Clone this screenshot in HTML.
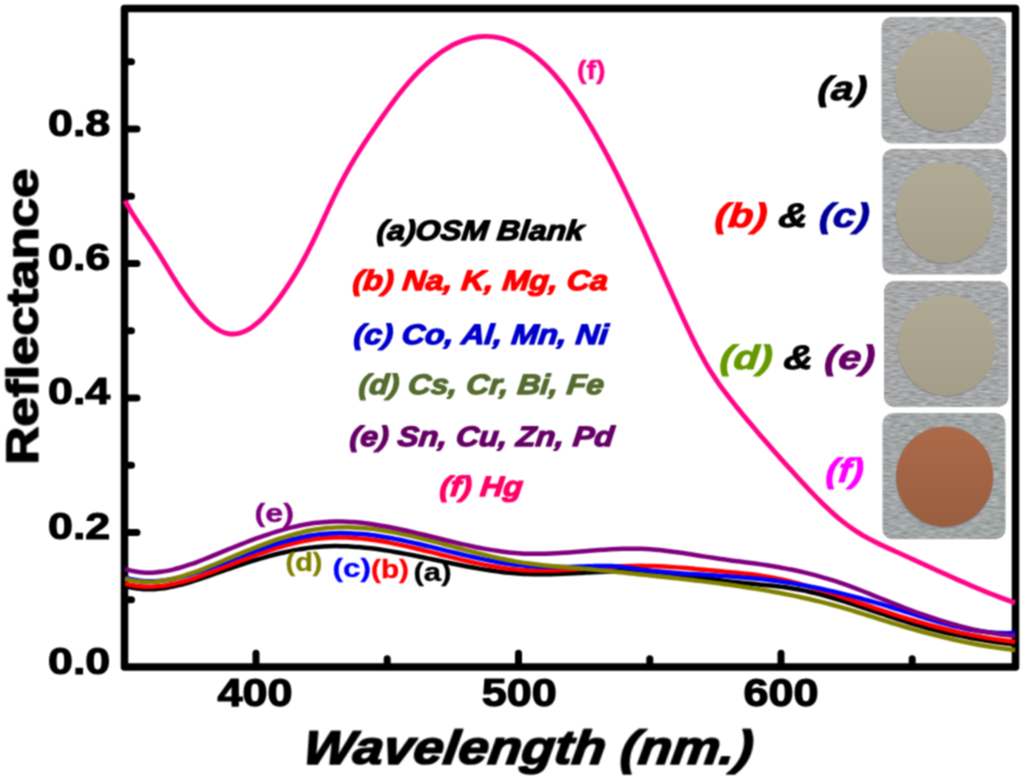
<!DOCTYPE html>
<html><head><meta charset="utf-8"><title>Reflectance vs Wavelength</title>
<style>
html,body{margin:0;padding:0;background:#fff;}
body{width:1024px;height:779px;overflow:hidden;}
svg{display:block;}
text{font-family:'Liberation Sans',Arial,sans-serif;font-weight:bold;white-space:pre;}
</style></head><body>
<svg width="1024" height="779" viewBox="0 0 1024 779">
<defs>
<filter id="brush" x="0" y="0" width="100%" height="100%" color-interpolation-filters="sRGB">
<feTurbulence type="fractalNoise" baseFrequency="0.11 0.55" numOctaves="3" seed="7" result="n"/>
<feColorMatrix in="n" type="matrix" values="1 0 0 0 0  1 0 0 0 0  1 0 0 0 0  0 0 0 0 1" result="g"/>
<feComposite in="SourceGraphic" in2="g" operator="arithmetic" k1="0.54" k2="0.73" k3="0" k4="0" result="m"/>
<feComposite in="m" in2="SourceGraphic" operator="in"/>
</filter>
<filter id="soft" x="0" y="0" width="1024" height="779" filterUnits="userSpaceOnUse" color-interpolation-filters="sRGB"><feConvolveMatrix order="3" kernelMatrix="1 2 1 2 4 2 1 2 1" divisor="16" edgeMode="none" preserveAlpha="false"/></filter>
</defs>
<rect width="1024" height="779" fill="#fff"/>
<g filter="url(#soft)">

<rect x="124.5" y="8.5" width="891" height="658.5" fill="none" stroke="#000" stroke-width="7.5" stroke-linejoin="round"/>
<line x1="126" y1="599.8" x2="131.5" y2="599.8" stroke="#000" stroke-width="7" stroke-linecap="round"/>
<line x1="126" y1="532.5" x2="137" y2="532.5" stroke="#000" stroke-width="7" stroke-linecap="round"/>
<line x1="126" y1="465.2" x2="131.5" y2="465.2" stroke="#000" stroke-width="7" stroke-linecap="round"/>
<line x1="126" y1="398.0" x2="137" y2="398.0" stroke="#000" stroke-width="7" stroke-linecap="round"/>
<line x1="126" y1="330.8" x2="131.5" y2="330.8" stroke="#000" stroke-width="7" stroke-linecap="round"/>
<line x1="126" y1="263.5" x2="137" y2="263.5" stroke="#000" stroke-width="7" stroke-linecap="round"/>
<line x1="126" y1="196.2" x2="131.5" y2="196.2" stroke="#000" stroke-width="7" stroke-linecap="round"/>
<line x1="126" y1="129.0" x2="137" y2="129.0" stroke="#000" stroke-width="7" stroke-linecap="round"/>
<line x1="126" y1="61.8" x2="131.5" y2="61.8" stroke="#000" stroke-width="7" stroke-linecap="round"/>
<line x1="256.0" y1="665" x2="256.0" y2="653.3" stroke="#000" stroke-width="7" stroke-linecap="round"/>
<line x1="387.2" y1="665" x2="387.2" y2="658.8" stroke="#000" stroke-width="7" stroke-linecap="round"/>
<line x1="518.5" y1="665" x2="518.5" y2="653.3" stroke="#000" stroke-width="7" stroke-linecap="round"/>
<line x1="649.8" y1="665" x2="649.8" y2="658.8" stroke="#000" stroke-width="7" stroke-linecap="round"/>
<line x1="781.0" y1="665" x2="781.0" y2="653.3" stroke="#000" stroke-width="7" stroke-linecap="round"/>
<line x1="912.2" y1="665" x2="912.2" y2="658.8" stroke="#000" stroke-width="7" stroke-linecap="round"/>
<path d="M125.00 586.12 C126.00 586.37 129.00 587.19 131.00 587.61 C133.00 588.02 135.00 588.36 137.00 588.62 C139.00 588.88 141.00 589.07 143.00 589.19 C145.00 589.31 147.00 589.36 149.00 589.35 C151.00 589.34 153.00 589.26 155.00 589.13 C157.00 589.00 159.00 588.81 161.00 588.58 C163.00 588.34 165.00 588.04 167.00 587.71 C169.00 587.37 171.00 586.99 173.00 586.57 C175.00 586.15 177.00 585.68 179.00 585.18 C181.00 584.69 183.00 584.15 185.00 583.59 C187.00 583.03 189.00 582.44 191.00 581.83 C193.00 581.22 195.00 580.58 197.00 579.92 C199.00 579.27 201.00 578.59 203.00 577.91 C205.00 577.23 207.00 576.53 209.00 575.82 C211.00 575.12 213.00 574.41 215.00 573.70 C217.00 572.99 219.00 572.27 221.00 571.57 C223.00 570.86 225.00 570.15 227.00 569.45 C229.00 568.76 231.00 568.06 233.00 567.38 C235.00 566.69 237.00 566.01 239.00 565.34 C241.00 564.67 243.00 564.01 245.00 563.36 C247.00 562.70 249.00 562.06 251.00 561.43 C253.00 560.80 255.00 560.18 257.00 559.58 C259.00 558.97 261.00 558.38 263.00 557.81 C265.00 557.23 267.00 556.67 269.00 556.12 C271.00 555.58 273.00 555.05 275.00 554.54 C277.00 554.03 279.00 553.53 281.00 553.06 C283.00 552.58 285.00 552.13 287.00 551.70 C289.00 551.26 291.00 550.85 293.00 550.46 C295.00 550.07 297.00 549.71 299.00 549.36 C301.00 549.02 303.00 548.70 305.00 548.41 C307.00 548.12 309.00 547.85 311.00 547.61 C313.00 547.38 315.00 547.16 317.00 546.98 C319.00 546.80 321.00 546.64 323.00 546.52 C325.00 546.40 327.00 546.30 329.00 546.23 C331.00 546.16 333.00 546.13 335.00 546.11 C337.00 546.10 339.00 546.11 341.00 546.14 C343.00 546.18 345.00 546.24 347.00 546.32 C349.00 546.40 351.00 546.51 353.00 546.64 C355.00 546.76 357.00 546.91 359.00 547.08 C361.00 547.25 363.00 547.44 365.00 547.64 C367.00 547.85 369.00 548.07 371.00 548.31 C373.00 548.55 375.00 548.81 377.00 549.08 C379.00 549.36 381.00 549.65 383.00 549.95 C385.00 550.25 387.00 550.56 389.00 550.89 C391.00 551.22 393.00 551.56 395.00 551.91 C397.00 552.26 399.00 552.62 401.00 552.99 C403.00 553.36 405.00 553.74 407.00 554.12 C409.00 554.51 411.00 554.90 413.00 555.30 C415.00 555.70 417.00 556.11 419.00 556.52 C421.00 556.93 423.00 557.34 425.00 557.76 C427.00 558.17 429.00 558.60 431.00 559.02 C433.00 559.44 435.00 559.86 437.00 560.28 C439.00 560.71 441.00 561.13 443.00 561.55 C445.00 561.97 447.00 562.39 449.00 562.81 C451.00 563.22 453.00 563.64 455.00 564.04 C457.00 564.45 459.00 564.86 461.00 565.25 C463.00 565.65 465.00 566.04 467.00 566.42 C469.00 566.80 471.00 567.18 473.00 567.55 C475.00 567.91 477.00 568.27 479.00 568.61 C481.00 568.96 483.00 569.29 485.00 569.62 C487.00 569.94 489.00 570.25 491.00 570.54 C493.00 570.84 495.00 571.12 497.00 571.39 C499.00 571.66 501.00 571.91 503.00 572.14 C505.00 572.37 507.00 572.59 509.00 572.79 C511.00 572.99 513.00 573.17 515.00 573.33 C517.00 573.49 519.00 573.63 521.00 573.75 C523.00 573.87 525.00 573.96 527.00 574.04 C529.00 574.12 531.00 574.18 533.00 574.22 C535.00 574.26 537.00 574.29 539.00 574.30 C541.00 574.31 543.00 574.30 545.00 574.28 C547.00 574.26 549.00 574.23 551.00 574.19 C553.00 574.15 555.00 574.09 557.00 574.03 C559.00 573.96 561.00 573.89 563.00 573.81 C565.00 573.73 567.00 573.64 569.00 573.55 C571.00 573.46 573.00 573.36 575.00 573.25 C577.00 573.15 579.00 573.04 581.00 572.94 C583.00 572.83 585.00 572.72 587.00 572.61 C589.00 572.50 591.00 572.40 593.00 572.29 C595.00 572.18 597.00 572.08 599.00 571.98 C601.00 571.88 603.00 571.79 605.00 571.70 C607.00 571.61 609.00 571.53 611.00 571.45 C613.00 571.38 615.00 571.31 617.00 571.26 C619.00 571.20 621.00 571.15 623.00 571.12 C625.00 571.09 627.00 571.06 629.00 571.06 C631.00 571.05 633.00 571.05 635.00 571.08 C637.00 571.10 639.00 571.14 641.00 571.19 C643.00 571.25 645.00 571.32 647.00 571.41 C649.00 571.51 651.00 571.62 653.00 571.76 C655.00 571.89 657.00 572.05 659.00 572.22 C661.00 572.39 663.00 572.58 665.00 572.78 C667.00 572.98 669.00 573.20 671.00 573.43 C673.00 573.66 675.00 573.90 677.00 574.16 C679.00 574.41 681.00 574.67 683.00 574.94 C685.00 575.21 687.00 575.49 689.00 575.77 C691.00 576.06 693.00 576.35 695.00 576.64 C697.00 576.93 699.00 577.22 701.00 577.52 C703.00 577.81 705.00 578.11 707.00 578.40 C709.00 578.70 711.00 578.99 713.00 579.28 C715.00 579.56 717.00 579.85 719.00 580.12 C721.00 580.40 723.00 580.67 725.00 580.93 C727.00 581.19 729.00 581.44 731.00 581.68 C733.00 581.92 735.00 582.15 737.00 582.36 C739.00 582.58 741.00 582.78 743.00 582.98 C745.00 583.18 747.00 583.36 749.00 583.55 C751.00 583.73 753.00 583.91 755.00 584.09 C757.00 584.27 759.00 584.45 761.00 584.64 C763.00 584.82 765.00 585.01 767.00 585.20 C769.00 585.40 771.00 585.60 773.00 585.82 C775.00 586.03 777.00 586.26 779.00 586.50 C781.00 586.74 783.00 587.00 785.00 587.28 C787.00 587.56 789.00 587.85 791.00 588.17 C793.00 588.49 795.00 588.84 797.00 589.21 C799.00 589.57 801.00 589.97 803.00 590.38 C805.00 590.79 807.00 591.23 809.00 591.68 C811.00 592.14 813.00 592.61 815.00 593.11 C817.00 593.60 819.00 594.11 821.00 594.64 C823.00 595.17 825.00 595.71 827.00 596.27 C829.00 596.83 831.00 597.40 833.00 597.99 C835.00 598.57 837.00 599.17 839.00 599.78 C841.00 600.39 843.00 601.01 845.00 601.64 C847.00 602.27 849.00 602.91 851.00 603.55 C853.00 604.20 855.00 604.85 857.00 605.51 C859.00 606.16 861.00 606.83 863.00 607.50 C865.00 608.16 867.00 608.84 869.00 609.51 C871.00 610.18 873.00 610.86 875.00 611.53 C877.00 612.20 879.00 612.88 881.00 613.55 C883.00 614.22 885.00 614.90 887.00 615.56 C889.00 616.23 891.00 616.90 893.00 617.55 C895.00 618.21 897.00 618.87 899.00 619.51 C901.00 620.16 903.00 620.80 905.00 621.43 C907.00 622.06 909.00 622.68 911.00 623.29 C913.00 623.90 915.00 624.50 917.00 625.09 C919.00 625.67 921.00 626.25 923.00 626.81 C925.00 627.37 927.00 627.92 929.00 628.46 C931.00 628.99 933.00 629.52 935.00 630.03 C937.00 630.54 939.00 631.04 941.00 631.53 C943.00 632.01 945.00 632.49 947.00 632.95 C949.00 633.42 951.00 633.87 953.00 634.31 C955.00 634.75 957.00 635.18 959.00 635.60 C961.00 636.01 963.00 636.42 965.00 636.81 C967.00 637.21 969.00 637.59 971.00 637.97 C973.00 638.34 975.00 638.70 977.00 639.05 C979.00 639.41 981.00 639.75 983.00 640.08 C985.00 640.41 987.00 640.73 989.00 641.04 C991.00 641.35 993.00 641.65 995.00 641.94 C997.00 642.23 999.00 642.51 1001.00 642.78 C1003.00 643.05 1005.00 643.31 1007.00 643.56 C1009.00 643.81 1011.63 644.13 1013.00 644.29 C1014.37 644.45 1014.83 644.50 1015.20 644.54" fill="none" stroke="#000000" stroke-width="4.5" stroke-linecap="butt" stroke-linejoin="round"/>
<path d="M125.00 583.61 C126.00 583.85 129.00 584.65 131.00 585.05 C133.00 585.46 135.00 585.78 137.00 586.04 C139.00 586.30 141.00 586.48 143.00 586.61 C145.00 586.73 147.00 586.78 149.00 586.77 C151.00 586.77 153.00 586.69 155.00 586.57 C157.00 586.45 159.00 586.26 161.00 586.03 C163.00 585.80 165.00 585.51 167.00 585.18 C169.00 584.85 171.00 584.47 173.00 584.05 C175.00 583.63 177.00 583.17 179.00 582.67 C181.00 582.17 183.00 581.63 185.00 581.07 C187.00 580.50 189.00 579.90 191.00 579.28 C193.00 578.65 195.00 578.00 197.00 577.32 C199.00 576.65 201.00 575.95 203.00 575.24 C205.00 574.52 207.00 573.79 209.00 573.05 C211.00 572.30 213.00 571.54 215.00 570.78 C217.00 570.02 219.00 569.24 221.00 568.47 C223.00 567.70 225.00 566.92 227.00 566.14 C229.00 565.37 231.00 564.59 233.00 563.81 C235.00 563.04 237.00 562.26 239.00 561.49 C241.00 560.72 243.00 559.95 245.00 559.19 C247.00 558.44 249.00 557.68 251.00 556.94 C253.00 556.20 255.00 555.46 257.00 554.74 C259.00 554.01 261.00 553.30 263.00 552.60 C265.00 551.91 267.00 551.22 269.00 550.55 C271.00 549.89 273.00 549.23 275.00 548.60 C277.00 547.97 279.00 547.35 281.00 546.76 C283.00 546.17 285.00 545.59 287.00 545.05 C289.00 544.50 291.00 543.97 293.00 543.47 C295.00 542.97 297.00 542.50 299.00 542.05 C301.00 541.61 303.00 541.19 305.00 540.80 C307.00 540.42 309.00 540.06 311.00 539.74 C313.00 539.41 315.00 539.12 317.00 538.87 C319.00 538.61 321.00 538.39 323.00 538.21 C325.00 538.03 327.00 537.88 329.00 537.77 C331.00 537.65 333.00 537.58 335.00 537.53 C337.00 537.48 339.00 537.47 341.00 537.48 C343.00 537.49 345.00 537.54 347.00 537.61 C349.00 537.68 351.00 537.79 353.00 537.91 C355.00 538.04 357.00 538.20 359.00 538.37 C361.00 538.55 363.00 538.76 365.00 538.98 C367.00 539.21 369.00 539.46 371.00 539.73 C373.00 539.99 375.00 540.29 377.00 540.59 C379.00 540.90 381.00 541.23 383.00 541.58 C385.00 541.92 387.00 542.28 389.00 542.66 C391.00 543.04 393.00 543.43 395.00 543.84 C397.00 544.24 399.00 544.66 401.00 545.09 C403.00 545.52 405.00 545.97 407.00 546.42 C409.00 546.87 411.00 547.33 413.00 547.80 C415.00 548.27 417.00 548.75 419.00 549.23 C421.00 549.72 423.00 550.21 425.00 550.70 C427.00 551.19 429.00 551.69 431.00 552.19 C433.00 552.69 435.00 553.19 437.00 553.69 C439.00 554.19 441.00 554.70 443.00 555.20 C445.00 555.70 447.00 556.20 449.00 556.69 C451.00 557.19 453.00 557.68 455.00 558.17 C457.00 558.66 459.00 559.14 461.00 559.62 C463.00 560.09 465.00 560.56 467.00 561.02 C469.00 561.48 471.00 561.93 473.00 562.37 C475.00 562.81 477.00 563.24 479.00 563.65 C481.00 564.07 483.00 564.47 485.00 564.86 C487.00 565.25 489.00 565.62 491.00 565.98 C493.00 566.34 495.00 566.68 497.00 567.00 C499.00 567.33 501.00 567.63 503.00 567.92 C505.00 568.20 507.00 568.47 509.00 568.71 C511.00 568.95 513.00 569.17 515.00 569.37 C517.00 569.57 519.00 569.74 521.00 569.89 C523.00 570.04 525.00 570.16 527.00 570.26 C529.00 570.36 531.00 570.44 533.00 570.49 C535.00 570.55 537.00 570.59 539.00 570.60 C541.00 570.62 543.00 570.62 545.00 570.60 C547.00 570.58 549.00 570.55 551.00 570.50 C553.00 570.45 555.00 570.39 557.00 570.31 C559.00 570.24 561.00 570.15 563.00 570.05 C565.00 569.95 567.00 569.85 569.00 569.73 C571.00 569.62 573.00 569.49 575.00 569.36 C577.00 569.23 579.00 569.10 581.00 568.96 C583.00 568.82 585.00 568.68 587.00 568.54 C589.00 568.39 591.00 568.25 593.00 568.10 C595.00 567.96 597.00 567.81 599.00 567.67 C601.00 567.53 603.00 567.39 605.00 567.26 C607.00 567.12 609.00 566.99 611.00 566.87 C613.00 566.75 615.00 566.64 617.00 566.53 C619.00 566.43 621.00 566.33 623.00 566.25 C625.00 566.16 627.00 566.09 629.00 566.03 C631.00 565.97 633.00 565.92 635.00 565.89 C637.00 565.86 639.00 565.84 641.00 565.84 C643.00 565.84 645.00 565.86 647.00 565.90 C649.00 565.93 651.00 565.98 653.00 566.05 C655.00 566.11 657.00 566.19 659.00 566.28 C661.00 566.37 663.00 566.47 665.00 566.59 C667.00 566.70 669.00 566.82 671.00 566.96 C673.00 567.09 675.00 567.23 677.00 567.38 C679.00 567.53 681.00 567.69 683.00 567.85 C685.00 568.01 687.00 568.18 689.00 568.36 C691.00 568.53 693.00 568.71 695.00 568.89 C697.00 569.07 699.00 569.25 701.00 569.44 C703.00 569.62 705.00 569.81 707.00 569.99 C709.00 570.18 711.00 570.36 713.00 570.55 C715.00 570.73 717.00 570.91 719.00 571.09 C721.00 571.27 723.00 571.45 725.00 571.63 C727.00 571.81 729.00 571.99 731.00 572.18 C733.00 572.37 735.00 572.56 737.00 572.76 C739.00 572.96 741.00 573.16 743.00 573.38 C745.00 573.60 747.00 573.82 749.00 574.06 C751.00 574.30 753.00 574.56 755.00 574.82 C757.00 575.09 759.00 575.38 761.00 575.68 C763.00 575.98 765.00 576.30 767.00 576.64 C769.00 576.99 771.00 577.35 773.00 577.73 C775.00 578.12 777.00 578.52 779.00 578.94 C781.00 579.36 783.00 579.81 785.00 580.27 C787.00 580.73 789.00 581.20 791.00 581.70 C793.00 582.19 795.00 582.70 797.00 583.22 C799.00 583.75 801.00 584.29 803.00 584.84 C805.00 585.39 807.00 585.96 809.00 586.53 C811.00 587.11 813.00 587.70 815.00 588.30 C817.00 588.90 819.00 589.51 821.00 590.13 C823.00 590.75 825.00 591.39 827.00 592.02 C829.00 592.66 831.00 593.31 833.00 593.96 C835.00 594.61 837.00 595.27 839.00 595.93 C841.00 596.60 843.00 597.27 845.00 597.94 C847.00 598.61 849.00 599.29 851.00 599.97 C853.00 600.65 855.00 601.33 857.00 602.01 C859.00 602.69 861.00 603.38 863.00 604.06 C865.00 604.74 867.00 605.43 869.00 606.11 C871.00 606.79 873.00 607.47 875.00 608.14 C877.00 608.82 879.00 609.49 881.00 610.16 C883.00 610.83 885.00 611.49 887.00 612.15 C889.00 612.81 891.00 613.46 893.00 614.11 C895.00 614.75 897.00 615.39 899.00 616.02 C901.00 616.65 903.00 617.27 905.00 617.89 C907.00 618.50 909.00 619.11 911.00 619.71 C913.00 620.31 915.00 620.90 917.00 621.48 C919.00 622.06 921.00 622.63 923.00 623.20 C925.00 623.76 927.00 624.32 929.00 624.86 C931.00 625.41 933.00 625.95 935.00 626.47 C937.00 627.00 939.00 627.52 941.00 628.03 C943.00 628.54 945.00 629.03 947.00 629.52 C949.00 630.01 951.00 630.49 953.00 630.96 C955.00 631.42 957.00 631.88 959.00 632.33 C961.00 632.77 963.00 633.21 965.00 633.63 C967.00 634.06 969.00 634.47 971.00 634.87 C973.00 635.27 975.00 635.66 977.00 636.04 C979.00 636.42 981.00 636.78 983.00 637.14 C985.00 637.49 987.00 637.83 989.00 638.16 C991.00 638.49 993.00 638.81 995.00 639.11 C997.00 639.42 999.00 639.71 1001.00 639.99 C1003.00 640.27 1005.00 640.53 1007.00 640.78 C1009.00 641.04 1011.63 641.34 1013.00 641.50 C1014.37 641.66 1014.83 641.70 1015.20 641.74" fill="none" stroke="#ff0000" stroke-width="4.5" stroke-linecap="butt" stroke-linejoin="round"/>
<path d="M125.00 577.49 C126.00 577.76 129.00 578.65 131.00 579.11 C133.00 579.57 135.00 579.95 137.00 580.25 C139.00 580.56 141.00 580.79 143.00 580.96 C145.00 581.12 147.00 581.22 149.00 581.25 C151.00 581.29 153.00 581.25 155.00 581.16 C157.00 581.08 159.00 580.93 161.00 580.73 C163.00 580.53 165.00 580.27 167.00 579.97 C169.00 579.67 171.00 579.32 173.00 578.93 C175.00 578.54 177.00 578.10 179.00 577.62 C181.00 577.15 183.00 576.64 185.00 576.09 C187.00 575.55 189.00 574.97 191.00 574.36 C193.00 573.76 195.00 573.12 197.00 572.47 C199.00 571.81 201.00 571.13 203.00 570.44 C205.00 569.74 207.00 569.02 209.00 568.30 C211.00 567.57 213.00 566.83 215.00 566.08 C217.00 565.34 219.00 564.58 221.00 563.82 C223.00 563.06 225.00 562.30 227.00 561.54 C229.00 560.78 231.00 560.02 233.00 559.26 C235.00 558.50 237.00 557.74 239.00 556.98 C241.00 556.23 243.00 555.48 245.00 554.73 C247.00 553.99 249.00 553.25 251.00 552.52 C253.00 551.79 255.00 551.07 257.00 550.36 C259.00 549.65 261.00 548.95 263.00 548.26 C265.00 547.58 267.00 546.90 269.00 546.25 C271.00 545.59 273.00 544.95 275.00 544.32 C277.00 543.70 279.00 543.09 281.00 542.51 C283.00 541.92 285.00 541.35 287.00 540.81 C289.00 540.27 291.00 539.74 293.00 539.25 C295.00 538.75 297.00 538.28 299.00 537.84 C301.00 537.39 303.00 536.97 305.00 536.59 C307.00 536.20 309.00 535.84 311.00 535.51 C313.00 535.18 315.00 534.89 317.00 534.63 C319.00 534.37 321.00 534.14 323.00 533.95 C325.00 533.75 327.00 533.60 329.00 533.47 C331.00 533.34 333.00 533.25 335.00 533.19 C337.00 533.13 339.00 533.10 341.00 533.10 C343.00 533.09 345.00 533.12 347.00 533.18 C349.00 533.23 351.00 533.31 353.00 533.42 C355.00 533.53 357.00 533.66 359.00 533.82 C361.00 533.98 363.00 534.16 365.00 534.36 C367.00 534.57 369.00 534.79 371.00 535.04 C373.00 535.28 375.00 535.55 377.00 535.84 C379.00 536.12 381.00 536.43 383.00 536.75 C385.00 537.07 387.00 537.41 389.00 537.77 C391.00 538.12 393.00 538.49 395.00 538.88 C397.00 539.26 399.00 539.66 401.00 540.07 C403.00 540.48 405.00 540.90 407.00 541.33 C409.00 541.76 411.00 542.21 413.00 542.66 C415.00 543.11 417.00 543.57 419.00 544.03 C421.00 544.50 423.00 544.97 425.00 545.45 C427.00 545.93 429.00 546.41 431.00 546.90 C433.00 547.38 435.00 547.88 437.00 548.37 C439.00 548.86 441.00 549.35 443.00 549.85 C445.00 550.34 447.00 550.84 449.00 551.33 C451.00 551.82 453.00 552.31 455.00 552.80 C457.00 553.28 459.00 553.77 461.00 554.25 C463.00 554.72 465.00 555.20 467.00 555.66 C469.00 556.13 471.00 556.59 473.00 557.04 C475.00 557.49 477.00 557.94 479.00 558.37 C481.00 558.80 483.00 559.22 485.00 559.63 C487.00 560.04 489.00 560.44 491.00 560.82 C493.00 561.21 495.00 561.58 497.00 561.93 C499.00 562.29 501.00 562.63 503.00 562.95 C505.00 563.28 507.00 563.58 509.00 563.87 C511.00 564.15 513.00 564.42 515.00 564.67 C517.00 564.92 519.00 565.14 521.00 565.35 C523.00 565.55 525.00 565.74 527.00 565.90 C529.00 566.06 531.00 566.21 533.00 566.33 C535.00 566.46 537.00 566.56 539.00 566.65 C541.00 566.74 543.00 566.81 545.00 566.87 C547.00 566.92 549.00 566.97 551.00 566.99 C553.00 567.02 555.00 567.03 557.00 567.04 C559.00 567.04 561.00 567.03 563.00 567.01 C565.00 566.99 567.00 566.96 569.00 566.92 C571.00 566.88 573.00 566.83 575.00 566.77 C577.00 566.72 579.00 566.65 581.00 566.58 C583.00 566.51 585.00 566.43 587.00 566.36 C589.00 566.29 591.00 566.20 593.00 566.13 C595.00 566.07 597.00 566.00 599.00 565.97 C601.00 565.94 603.00 565.91 605.00 565.93 C607.00 565.95 609.00 565.99 611.00 566.08 C613.00 566.18 615.00 566.31 617.00 566.49 C619.00 566.67 621.00 566.91 623.00 567.16 C625.00 567.41 627.00 567.70 629.00 567.97 C631.00 568.25 633.00 568.55 635.00 568.82 C637.00 569.10 639.00 569.36 641.00 569.61 C643.00 569.86 645.00 570.10 647.00 570.33 C649.00 570.56 651.00 570.77 653.00 570.98 C655.00 571.19 657.00 571.39 659.00 571.57 C661.00 571.76 663.00 571.94 665.00 572.11 C667.00 572.29 669.00 572.45 671.00 572.61 C673.00 572.76 675.00 572.92 677.00 573.06 C679.00 573.21 681.00 573.35 683.00 573.48 C685.00 573.62 687.00 573.75 689.00 573.88 C691.00 574.01 693.00 574.13 695.00 574.26 C697.00 574.38 699.00 574.50 701.00 574.62 C703.00 574.74 705.00 574.86 707.00 574.98 C709.00 575.10 711.00 575.22 713.00 575.35 C715.00 575.47 717.00 575.59 719.00 575.72 C721.00 575.84 723.00 575.97 725.00 576.10 C727.00 576.23 729.00 576.37 731.00 576.51 C733.00 576.65 735.00 576.79 737.00 576.94 C739.00 577.09 741.00 577.25 743.00 577.41 C745.00 577.57 747.00 577.74 749.00 577.92 C751.00 578.10 753.00 578.28 755.00 578.48 C757.00 578.68 759.00 578.88 761.00 579.09 C763.00 579.31 765.00 579.53 767.00 579.77 C769.00 580.01 771.00 580.26 773.00 580.52 C775.00 580.77 777.00 581.05 779.00 581.33 C781.00 581.61 783.00 581.90 785.00 582.21 C787.00 582.51 789.00 582.83 791.00 583.15 C793.00 583.48 795.00 583.82 797.00 584.16 C799.00 584.51 801.00 584.87 803.00 585.24 C805.00 585.60 807.00 585.98 809.00 586.37 C811.00 586.76 813.00 587.15 815.00 587.56 C817.00 587.97 819.00 588.38 821.00 588.81 C823.00 589.24 825.00 589.67 827.00 590.12 C829.00 590.56 831.00 591.02 833.00 591.48 C835.00 591.94 837.00 592.41 839.00 592.89 C841.00 593.37 843.00 593.86 845.00 594.36 C847.00 594.86 849.00 595.36 851.00 595.88 C853.00 596.39 855.00 596.91 857.00 597.44 C859.00 597.97 861.00 598.51 863.00 599.05 C865.00 599.60 867.00 600.15 869.00 600.71 C871.00 601.27 873.00 601.84 875.00 602.41 C877.00 602.99 879.00 603.57 881.00 604.16 C883.00 604.75 885.00 605.34 887.00 605.94 C889.00 606.55 891.00 607.15 893.00 607.77 C895.00 608.38 897.00 609.01 899.00 609.63 C901.00 610.26 903.00 610.89 905.00 611.52 C907.00 612.15 909.00 612.78 911.00 613.41 C913.00 614.04 915.00 614.67 917.00 615.30 C919.00 615.92 921.00 616.55 923.00 617.17 C925.00 617.78 927.00 618.40 929.00 619.00 C931.00 619.61 933.00 620.20 935.00 620.79 C937.00 621.37 939.00 621.95 941.00 622.51 C943.00 623.07 945.00 623.62 947.00 624.16 C949.00 624.69 951.00 625.21 953.00 625.71 C955.00 626.21 957.00 626.70 959.00 627.16 C961.00 627.62 963.00 628.06 965.00 628.48 C967.00 628.90 969.00 629.30 971.00 629.67 C973.00 630.05 975.00 630.40 977.00 630.72 C979.00 631.04 981.00 631.33 983.00 631.59 C985.00 631.85 987.00 632.09 989.00 632.29 C991.00 632.49 993.00 632.66 995.00 632.80 C997.00 632.93 999.00 633.03 1001.00 633.09 C1003.00 633.15 1005.00 633.18 1007.00 633.17 C1009.00 633.15 1011.63 633.05 1013.00 633.01 C1014.37 632.96 1014.83 632.91 1015.20 632.89" fill="none" stroke="#0000ff" stroke-width="4.5" stroke-linecap="butt" stroke-linejoin="round"/>
<path d="M125.00 578.76 C126.00 579.01 129.00 579.83 131.00 580.25 C133.00 580.66 135.00 580.99 137.00 581.25 C139.00 581.50 141.00 581.68 143.00 581.79 C145.00 581.90 147.00 581.93 149.00 581.91 C151.00 581.88 153.00 581.78 155.00 581.63 C157.00 581.48 159.00 581.26 161.00 580.99 C163.00 580.73 165.00 580.40 167.00 580.02 C169.00 579.65 171.00 579.23 173.00 578.76 C175.00 578.29 177.00 577.78 179.00 577.23 C181.00 576.68 183.00 576.08 185.00 575.46 C187.00 574.84 189.00 574.17 191.00 573.49 C193.00 572.80 195.00 572.09 197.00 571.35 C199.00 570.61 201.00 569.85 203.00 569.07 C205.00 568.29 207.00 567.49 209.00 566.68 C211.00 565.87 213.00 565.05 215.00 564.22 C217.00 563.39 219.00 562.55 221.00 561.71 C223.00 560.88 225.00 560.03 227.00 559.19 C229.00 558.35 231.00 557.51 233.00 556.67 C235.00 555.83 237.00 554.99 239.00 554.16 C241.00 553.33 243.00 552.50 245.00 551.68 C247.00 550.86 249.00 550.04 251.00 549.24 C253.00 548.44 255.00 547.64 257.00 546.86 C259.00 546.07 261.00 545.30 263.00 544.55 C265.00 543.79 267.00 543.04 269.00 542.32 C271.00 541.59 273.00 540.88 275.00 540.19 C277.00 539.50 279.00 538.83 281.00 538.18 C283.00 537.53 285.00 536.90 287.00 536.29 C289.00 535.69 291.00 535.10 293.00 534.55 C295.00 533.99 297.00 533.46 299.00 532.96 C301.00 532.46 303.00 531.99 305.00 531.54 C307.00 531.10 309.00 530.69 311.00 530.31 C313.00 529.93 315.00 529.59 317.00 529.28 C319.00 528.97 321.00 528.70 323.00 528.46 C325.00 528.22 327.00 528.02 329.00 527.85 C331.00 527.68 333.00 527.55 335.00 527.45 C337.00 527.35 339.00 527.28 341.00 527.25 C343.00 527.21 345.00 527.20 347.00 527.23 C349.00 527.25 351.00 527.30 353.00 527.38 C355.00 527.46 357.00 527.57 359.00 527.70 C361.00 527.84 363.00 528.00 365.00 528.18 C367.00 528.36 369.00 528.57 371.00 528.80 C373.00 529.03 375.00 529.29 377.00 529.56 C379.00 529.83 381.00 530.13 383.00 530.44 C385.00 530.76 387.00 531.09 389.00 531.44 C391.00 531.79 393.00 532.16 395.00 532.55 C397.00 532.93 399.00 533.33 401.00 533.74 C403.00 534.16 405.00 534.59 407.00 535.03 C409.00 535.47 411.00 535.92 413.00 536.39 C415.00 536.85 417.00 537.33 419.00 537.81 C421.00 538.30 423.00 538.79 425.00 539.29 C427.00 539.80 429.00 540.31 431.00 540.82 C433.00 541.33 435.00 541.86 437.00 542.38 C439.00 542.91 441.00 543.44 443.00 543.97 C445.00 544.50 447.00 545.04 449.00 545.57 C451.00 546.11 453.00 546.64 455.00 547.18 C457.00 547.71 459.00 548.25 461.00 548.78 C463.00 549.31 465.00 549.84 467.00 550.37 C469.00 550.90 471.00 551.42 473.00 551.93 C475.00 552.45 477.00 552.96 479.00 553.46 C481.00 553.97 483.00 554.46 485.00 554.95 C487.00 555.43 489.00 555.91 491.00 556.38 C493.00 556.84 495.00 557.30 497.00 557.74 C499.00 558.19 501.00 558.62 503.00 559.03 C505.00 559.45 507.00 559.85 509.00 560.24 C511.00 560.63 513.00 561.00 515.00 561.35 C517.00 561.71 519.00 562.04 521.00 562.36 C523.00 562.68 525.00 562.98 527.00 563.26 C529.00 563.54 531.00 563.81 533.00 564.06 C535.00 564.31 537.00 564.55 539.00 564.78 C541.00 565.00 543.00 565.22 545.00 565.42 C547.00 565.63 549.00 565.82 551.00 566.01 C553.00 566.20 555.00 566.38 557.00 566.55 C559.00 566.73 561.00 566.90 563.00 567.06 C565.00 567.23 567.00 567.39 569.00 567.56 C571.00 567.72 573.00 567.88 575.00 568.04 C577.00 568.21 579.00 568.37 581.00 568.54 C583.00 568.70 585.00 568.88 587.00 569.05 C589.00 569.23 591.00 569.41 593.00 569.59 C595.00 569.78 597.00 569.97 599.00 570.16 C601.00 570.35 603.00 570.55 605.00 570.75 C607.00 570.95 609.00 571.15 611.00 571.36 C613.00 571.56 615.00 571.77 617.00 571.97 C619.00 572.18 621.00 572.39 623.00 572.60 C625.00 572.81 627.00 573.02 629.00 573.23 C631.00 573.44 633.00 573.66 635.00 573.87 C637.00 574.08 639.00 574.29 641.00 574.50 C643.00 574.71 645.00 574.92 647.00 575.13 C649.00 575.34 651.00 575.56 653.00 575.77 C655.00 575.98 657.00 576.19 659.00 576.41 C661.00 576.62 663.00 576.83 665.00 577.05 C667.00 577.26 669.00 577.48 671.00 577.70 C673.00 577.92 675.00 578.14 677.00 578.36 C679.00 578.58 681.00 578.80 683.00 579.03 C685.00 579.26 687.00 579.48 689.00 579.71 C691.00 579.94 693.00 580.18 695.00 580.41 C697.00 580.65 699.00 580.89 701.00 581.13 C703.00 581.37 705.00 581.61 707.00 581.86 C709.00 582.11 711.00 582.36 713.00 582.62 C715.00 582.87 717.00 583.13 719.00 583.39 C721.00 583.66 723.00 583.92 725.00 584.19 C727.00 584.47 729.00 584.74 731.00 585.02 C733.00 585.30 735.00 585.59 737.00 585.88 C739.00 586.17 741.00 586.46 743.00 586.76 C745.00 587.06 747.00 587.37 749.00 587.68 C751.00 587.99 753.00 588.31 755.00 588.63 C757.00 588.95 759.00 589.28 761.00 589.62 C763.00 589.95 765.00 590.29 767.00 590.64 C769.00 590.99 771.00 591.34 773.00 591.71 C775.00 592.07 777.00 592.44 779.00 592.81 C781.00 593.19 783.00 593.57 785.00 593.96 C787.00 594.36 789.00 594.75 791.00 595.16 C793.00 595.57 795.00 595.98 797.00 596.41 C799.00 596.83 801.00 597.26 803.00 597.70 C805.00 598.14 807.00 598.59 809.00 599.05 C811.00 599.51 813.00 599.98 815.00 600.46 C817.00 600.93 819.00 601.42 821.00 601.92 C823.00 602.42 825.00 602.92 827.00 603.44 C829.00 603.96 831.00 604.49 833.00 605.02 C835.00 605.56 837.00 606.11 839.00 606.67 C841.00 607.23 843.00 607.80 845.00 608.38 C847.00 608.97 849.00 609.56 851.00 610.16 C853.00 610.76 855.00 611.37 857.00 611.99 C859.00 612.60 861.00 613.22 863.00 613.85 C865.00 614.48 867.00 615.11 869.00 615.74 C871.00 616.37 873.00 617.01 875.00 617.64 C877.00 618.28 879.00 618.91 881.00 619.54 C883.00 620.18 885.00 620.81 887.00 621.43 C889.00 622.06 891.00 622.68 893.00 623.30 C895.00 623.91 897.00 624.52 899.00 625.13 C901.00 625.73 903.00 626.33 905.00 626.92 C907.00 627.50 909.00 628.09 911.00 628.66 C913.00 629.24 915.00 629.80 917.00 630.36 C919.00 630.92 921.00 631.47 923.00 632.02 C925.00 632.56 927.00 633.10 929.00 633.62 C931.00 634.15 933.00 634.67 935.00 635.18 C937.00 635.68 939.00 636.18 941.00 636.68 C943.00 637.17 945.00 637.65 947.00 638.12 C949.00 638.59 951.00 639.05 953.00 639.51 C955.00 639.96 957.00 640.40 959.00 640.83 C961.00 641.26 963.00 641.68 965.00 642.09 C967.00 642.50 969.00 642.90 971.00 643.29 C973.00 643.68 975.00 644.06 977.00 644.42 C979.00 644.79 981.00 645.14 983.00 645.49 C985.00 645.83 987.00 646.16 989.00 646.48 C991.00 646.79 993.00 647.10 995.00 647.39 C997.00 647.68 999.00 647.96 1001.00 648.23 C1003.00 648.50 1005.00 648.75 1007.00 648.99 C1009.00 649.23 1011.63 649.52 1013.00 649.67 C1014.37 649.83 1014.83 649.87 1015.20 649.90" fill="none" stroke="#808000" stroke-width="4.5" stroke-linecap="butt" stroke-linejoin="round"/>
<path d="M125.00 568.92 C126.00 569.20 129.00 570.14 131.00 570.62 C133.00 571.10 135.00 571.48 137.00 571.79 C139.00 572.09 141.00 572.31 143.00 572.45 C145.00 572.60 147.00 572.66 149.00 572.66 C151.00 572.65 153.00 572.57 155.00 572.43 C157.00 572.30 159.00 572.09 161.00 571.82 C163.00 571.56 165.00 571.23 167.00 570.86 C169.00 570.49 171.00 570.05 173.00 569.58 C175.00 569.11 177.00 568.58 179.00 568.02 C181.00 567.46 183.00 566.85 185.00 566.22 C187.00 565.59 189.00 564.91 191.00 564.21 C193.00 563.52 195.00 562.79 197.00 562.04 C199.00 561.29 201.00 560.52 203.00 559.74 C205.00 558.95 207.00 558.15 209.00 557.34 C211.00 556.53 213.00 555.70 215.00 554.88 C217.00 554.06 219.00 553.22 221.00 552.40 C223.00 551.57 225.00 550.75 227.00 549.93 C229.00 549.11 231.00 548.29 233.00 547.49 C235.00 546.68 237.00 545.87 239.00 545.08 C241.00 544.28 243.00 543.49 245.00 542.72 C247.00 541.94 249.00 541.17 251.00 540.42 C253.00 539.67 255.00 538.92 257.00 538.20 C259.00 537.47 261.00 536.75 263.00 536.06 C265.00 535.36 267.00 534.68 269.00 534.02 C271.00 533.36 273.00 532.71 275.00 532.09 C277.00 531.47 279.00 530.86 281.00 530.29 C283.00 529.71 285.00 529.15 287.00 528.62 C289.00 528.08 291.00 527.58 293.00 527.09 C295.00 526.61 297.00 526.16 299.00 525.73 C301.00 525.31 303.00 524.91 305.00 524.55 C307.00 524.18 309.00 523.84 311.00 523.54 C313.00 523.24 315.00 522.97 317.00 522.74 C319.00 522.51 321.00 522.31 323.00 522.14 C325.00 521.98 327.00 521.85 329.00 521.76 C331.00 521.66 333.00 521.60 335.00 521.57 C337.00 521.54 339.00 521.54 341.00 521.57 C343.00 521.60 345.00 521.67 347.00 521.75 C349.00 521.84 351.00 521.96 353.00 522.10 C355.00 522.24 357.00 522.41 359.00 522.60 C361.00 522.79 363.00 523.00 365.00 523.24 C367.00 523.47 369.00 523.73 371.00 524.01 C373.00 524.29 375.00 524.59 377.00 524.91 C379.00 525.22 381.00 525.56 383.00 525.91 C385.00 526.26 387.00 526.63 389.00 527.01 C391.00 527.40 393.00 527.79 395.00 528.20 C397.00 528.61 399.00 529.04 401.00 529.47 C403.00 529.90 405.00 530.35 407.00 530.80 C409.00 531.25 411.00 531.71 413.00 532.18 C415.00 532.65 417.00 533.13 419.00 533.61 C421.00 534.09 423.00 534.57 425.00 535.06 C427.00 535.55 429.00 536.05 431.00 536.54 C433.00 537.03 435.00 537.53 437.00 538.02 C439.00 538.52 441.00 539.01 443.00 539.50 C445.00 540.00 447.00 540.49 449.00 540.97 C451.00 541.46 453.00 541.94 455.00 542.41 C457.00 542.89 459.00 543.36 461.00 543.82 C463.00 544.28 465.00 544.73 467.00 545.18 C469.00 545.62 471.00 546.05 473.00 546.47 C475.00 546.90 477.00 547.31 479.00 547.70 C481.00 548.10 483.00 548.48 485.00 548.85 C487.00 549.22 489.00 549.57 491.00 549.90 C493.00 550.24 495.00 550.56 497.00 550.85 C499.00 551.15 501.00 551.43 503.00 551.69 C505.00 551.94 507.00 552.18 509.00 552.40 C511.00 552.61 513.00 552.80 515.00 552.97 C517.00 553.13 519.00 553.27 521.00 553.39 C523.00 553.50 525.00 553.59 527.00 553.66 C529.00 553.72 531.00 553.76 533.00 553.78 C535.00 553.80 537.00 553.80 539.00 553.78 C541.00 553.77 543.00 553.73 545.00 553.67 C547.00 553.62 549.00 553.55 551.00 553.47 C553.00 553.38 555.00 553.29 557.00 553.18 C559.00 553.07 561.00 552.95 563.00 552.82 C565.00 552.69 567.00 552.56 569.00 552.41 C571.00 552.27 573.00 552.12 575.00 551.97 C577.00 551.82 579.00 551.66 581.00 551.50 C583.00 551.34 585.00 551.18 587.00 551.02 C589.00 550.87 591.00 550.71 593.00 550.55 C595.00 550.40 597.00 550.25 599.00 550.11 C601.00 549.96 603.00 549.83 605.00 549.70 C607.00 549.57 609.00 549.45 611.00 549.34 C613.00 549.23 615.00 549.13 617.00 549.04 C619.00 548.96 621.00 548.89 623.00 548.83 C625.00 548.78 627.00 548.74 629.00 548.71 C631.00 548.69 633.00 548.69 635.00 548.71 C637.00 548.73 639.00 548.76 641.00 548.83 C643.00 548.89 645.00 548.98 647.00 549.09 C649.00 549.20 651.00 549.33 653.00 549.49 C655.00 549.64 657.00 549.82 659.00 550.02 C661.00 550.21 663.00 550.43 665.00 550.66 C667.00 550.89 669.00 551.14 671.00 551.40 C673.00 551.66 675.00 551.93 677.00 552.21 C679.00 552.49 681.00 552.79 683.00 553.09 C685.00 553.39 687.00 553.70 689.00 554.01 C691.00 554.32 693.00 554.65 695.00 554.96 C697.00 555.28 699.00 555.61 701.00 555.93 C703.00 556.25 705.00 556.57 707.00 556.89 C709.00 557.21 711.00 557.52 713.00 557.83 C715.00 558.14 717.00 558.44 719.00 558.74 C721.00 559.03 723.00 559.31 725.00 559.59 C727.00 559.87 729.00 560.14 731.00 560.40 C733.00 560.67 735.00 560.93 737.00 561.19 C739.00 561.45 741.00 561.70 743.00 561.96 C745.00 562.22 747.00 562.48 749.00 562.74 C751.00 563.00 753.00 563.26 755.00 563.53 C757.00 563.81 759.00 564.08 761.00 564.37 C763.00 564.65 765.00 564.95 767.00 565.25 C769.00 565.56 771.00 565.87 773.00 566.20 C775.00 566.53 777.00 566.87 779.00 567.23 C781.00 567.59 783.00 567.95 785.00 568.34 C787.00 568.72 789.00 569.11 791.00 569.53 C793.00 569.94 795.00 570.36 797.00 570.80 C799.00 571.24 801.00 571.69 803.00 572.17 C805.00 572.64 807.00 573.12 809.00 573.62 C811.00 574.12 813.00 574.64 815.00 575.17 C817.00 575.71 819.00 576.26 821.00 576.82 C823.00 577.39 825.00 577.97 827.00 578.58 C829.00 579.18 831.00 579.80 833.00 580.43 C835.00 581.07 837.00 581.72 839.00 582.40 C841.00 583.07 843.00 583.76 845.00 584.47 C847.00 585.18 849.00 585.91 851.00 586.66 C853.00 587.40 855.00 588.16 857.00 588.93 C859.00 589.69 861.00 590.48 863.00 591.27 C865.00 592.05 867.00 592.85 869.00 593.66 C871.00 594.46 873.00 595.27 875.00 596.08 C877.00 596.89 879.00 597.70 881.00 598.51 C883.00 599.32 885.00 600.14 887.00 600.94 C889.00 601.75 891.00 602.55 893.00 603.35 C895.00 604.14 897.00 604.93 899.00 605.71 C901.00 606.49 903.00 607.26 905.00 608.02 C907.00 608.79 909.00 609.54 911.00 610.28 C913.00 611.03 915.00 611.76 917.00 612.49 C919.00 613.21 921.00 613.93 923.00 614.63 C925.00 615.33 927.00 616.02 929.00 616.70 C931.00 617.38 933.00 618.04 935.00 618.70 C937.00 619.35 939.00 619.99 941.00 620.61 C943.00 621.24 945.00 621.85 947.00 622.45 C949.00 623.05 951.00 623.63 953.00 624.20 C955.00 624.77 957.00 625.32 959.00 625.85 C961.00 626.39 963.00 626.91 965.00 627.41 C967.00 627.91 969.00 628.39 971.00 628.86 C973.00 629.33 975.00 629.78 977.00 630.21 C979.00 630.63 981.00 631.05 983.00 631.44 C985.00 631.83 987.00 632.20 989.00 632.55 C991.00 632.90 993.00 633.23 995.00 633.54 C997.00 633.85 999.00 634.14 1001.00 634.40 C1003.00 634.67 1005.00 634.91 1007.00 635.13 C1009.00 635.35 1011.63 635.59 1013.00 635.72 C1014.37 635.85 1014.83 635.87 1015.20 635.90" fill="none" stroke="#800080" stroke-width="4.5" stroke-linecap="butt" stroke-linejoin="round"/>
<path d="M124.75 200.68 C125.75 202.39 128.75 207.64 130.75 210.92 C132.75 214.20 134.75 217.30 136.75 220.38 C138.75 223.45 140.75 226.40 142.75 229.38 C144.75 232.36 146.75 235.26 148.75 238.25 C150.75 241.24 152.75 244.22 154.75 247.31 C156.75 250.41 158.75 253.61 160.75 256.83 C162.75 260.05 164.75 263.39 166.75 266.65 C168.75 269.91 170.75 273.22 172.75 276.42 C174.75 279.61 176.75 282.77 178.75 285.82 C180.75 288.87 182.75 291.85 184.75 294.72 C186.75 297.58 188.75 300.35 190.75 302.99 C192.75 305.63 194.75 308.16 196.75 310.53 C198.75 312.90 200.75 315.15 202.75 317.22 C204.75 319.30 206.75 321.23 208.75 322.96 C210.75 324.69 212.75 326.27 214.75 327.63 C216.75 328.98 218.75 330.16 220.75 331.11 C222.75 332.05 224.75 332.80 226.75 333.29 C228.75 333.79 230.75 334.06 232.75 334.07 C234.75 334.09 236.75 333.85 238.75 333.39 C240.75 332.93 242.75 332.22 244.75 331.32 C246.75 330.42 248.75 329.29 250.75 327.99 C252.75 326.68 254.75 325.16 256.75 323.49 C258.75 321.81 260.75 319.94 262.75 317.93 C264.75 315.92 266.75 313.74 268.75 311.44 C270.75 309.13 272.75 306.67 274.75 304.10 C276.75 301.53 278.75 298.83 280.75 296.04 C282.75 293.25 284.75 290.35 286.75 287.35 C288.75 284.36 290.75 281.29 292.75 278.09 C294.75 274.89 296.75 271.60 298.75 268.16 C300.75 264.73 302.75 261.18 304.75 257.48 C306.75 253.78 308.75 249.93 310.75 245.95 C312.75 241.96 314.75 237.79 316.75 233.59 C318.75 229.39 320.75 225.04 322.75 220.74 C324.75 216.45 326.75 212.07 328.75 207.82 C330.75 203.56 332.75 199.29 334.75 195.21 C336.75 191.12 338.75 187.13 340.75 183.30 C342.75 179.47 344.75 175.79 346.75 172.22 C348.75 168.64 350.75 165.20 352.75 161.84 C354.75 158.47 356.75 155.23 358.75 152.04 C360.75 148.85 362.75 145.76 364.75 142.70 C366.75 139.64 368.75 136.66 370.75 133.69 C372.75 130.72 374.75 127.79 376.75 124.89 C378.75 121.98 380.75 119.08 382.75 116.24 C384.75 113.40 386.75 110.58 388.75 107.83 C390.75 105.08 392.75 102.37 394.75 99.73 C396.75 97.10 398.75 94.53 400.75 92.04 C402.75 89.54 404.75 87.11 406.75 84.76 C408.75 82.41 410.75 80.14 412.75 77.94 C414.75 75.74 416.75 73.61 418.75 71.57 C420.75 69.53 422.75 67.57 424.75 65.69 C426.75 63.81 428.75 62.01 430.75 60.30 C432.75 58.59 434.75 56.96 436.75 55.43 C438.75 53.89 440.75 52.45 442.75 51.09 C444.75 49.74 446.75 48.47 448.75 47.30 C450.75 46.13 452.75 45.06 454.75 44.07 C456.75 43.09 458.75 42.20 460.75 41.40 C462.75 40.61 464.75 39.91 466.75 39.30 C468.75 38.69 470.75 38.18 472.75 37.76 C474.75 37.34 476.75 37.02 478.75 36.79 C480.75 36.57 482.75 36.43 484.75 36.40 C486.75 36.36 488.75 36.42 490.75 36.58 C492.75 36.73 494.75 36.99 496.75 37.34 C498.75 37.68 500.75 38.13 502.75 38.67 C504.75 39.22 506.75 39.86 508.75 40.59 C510.75 41.33 512.75 42.17 514.75 43.10 C516.75 44.03 518.75 45.07 520.75 46.20 C522.75 47.33 524.75 48.56 526.75 49.88 C528.75 51.21 530.75 52.64 532.75 54.16 C534.75 55.69 536.75 57.32 538.75 59.04 C540.75 60.77 542.75 62.59 544.75 64.52 C546.75 66.44 548.75 68.47 550.75 70.60 C552.75 72.72 554.75 74.95 556.75 77.28 C558.75 79.61 560.75 82.04 562.75 84.57 C564.75 87.10 566.75 89.73 568.75 92.46 C570.75 95.18 572.75 98.00 574.75 100.92 C576.75 103.83 578.75 106.83 580.75 109.92 C582.75 113.01 584.75 116.19 586.75 119.44 C588.75 122.70 590.75 126.05 592.75 129.46 C594.75 132.88 596.75 136.38 598.75 139.95 C600.75 143.53 602.75 147.17 604.75 150.89 C606.75 154.60 608.75 158.39 610.75 162.24 C612.75 166.09 614.75 170.01 616.75 173.98 C618.75 177.96 620.75 182.00 622.75 186.10 C624.75 190.19 626.75 194.35 628.75 198.55 C630.75 202.75 632.75 207.01 634.75 211.31 C636.75 215.60 638.75 219.95 640.75 224.31 C642.75 228.68 644.75 233.09 646.75 237.51 C648.75 241.93 650.75 246.39 652.75 250.84 C654.75 255.30 656.75 259.78 658.75 264.25 C660.75 268.72 662.75 273.20 664.75 277.67 C666.75 282.14 668.75 286.61 670.75 291.05 C672.75 295.50 674.75 299.94 676.75 304.34 C678.75 308.74 680.75 313.13 682.75 317.45 C684.75 321.77 686.75 326.07 688.75 330.25 C690.75 334.44 692.75 338.57 694.75 342.56 C696.75 346.55 698.75 350.45 700.75 354.18 C702.75 357.91 704.75 361.52 706.75 364.94 C708.75 368.36 710.75 371.59 712.75 374.70 C714.75 377.82 716.75 380.75 718.75 383.60 C720.75 386.46 722.75 389.17 724.75 391.84 C726.75 394.50 728.75 397.06 730.75 399.60 C732.75 402.15 734.75 404.62 736.75 407.10 C738.75 409.57 740.75 412.02 742.75 414.45 C744.75 416.88 746.75 419.28 748.75 421.68 C750.75 424.07 752.75 426.44 754.75 428.79 C756.75 431.14 758.75 433.48 760.75 435.80 C762.75 438.13 764.75 440.43 766.75 442.72 C768.75 445.02 770.75 447.30 772.75 449.57 C774.75 451.84 776.75 454.09 778.75 456.34 C780.75 458.59 782.75 460.83 784.75 463.06 C786.75 465.29 788.75 467.51 790.75 469.73 C792.75 471.94 794.75 474.16 796.75 476.35 C798.75 478.55 800.75 480.74 802.75 482.91 C804.75 485.07 806.75 487.22 808.75 489.34 C810.75 491.46 812.75 493.56 814.75 495.62 C816.75 497.68 818.75 499.71 820.75 501.69 C822.75 503.68 824.75 505.63 826.75 507.53 C828.75 509.43 830.75 511.28 832.75 513.08 C834.75 514.87 836.75 516.62 838.75 518.30 C840.75 519.98 842.75 521.61 844.75 523.16 C846.75 524.71 848.75 526.20 850.75 527.61 C852.75 529.02 854.75 530.35 856.75 531.64 C858.75 532.92 860.75 534.13 862.75 535.30 C864.75 536.47 866.75 537.57 868.75 538.65 C870.75 539.72 872.75 540.75 874.75 541.75 C876.75 542.76 878.75 543.72 880.75 544.67 C882.75 545.62 884.75 546.54 886.75 547.46 C888.75 548.38 890.75 549.28 892.75 550.18 C894.75 551.09 896.75 551.99 898.75 552.89 C900.75 553.80 902.75 554.71 904.75 555.63 C906.75 556.54 908.75 557.45 910.75 558.37 C912.75 559.29 914.75 560.20 916.75 561.12 C918.75 562.04 920.75 562.96 922.75 563.88 C924.75 564.80 926.75 565.71 928.75 566.63 C930.75 567.55 932.75 568.46 934.75 569.38 C936.75 570.29 938.75 571.20 940.75 572.11 C942.75 573.02 944.75 573.92 946.75 574.82 C948.75 575.73 950.75 576.62 952.75 577.52 C954.75 578.41 956.75 579.30 958.75 580.18 C960.75 581.06 962.75 581.94 964.75 582.81 C966.75 583.68 968.75 584.55 970.75 585.40 C972.75 586.26 974.75 587.11 976.75 587.95 C978.75 588.80 980.75 589.63 982.75 590.45 C984.75 591.28 986.75 592.09 988.75 592.90 C990.75 593.71 992.75 594.50 994.75 595.29 C996.75 596.07 998.75 596.85 1000.75 597.61 C1002.75 598.37 1004.75 599.12 1006.75 599.86 C1008.75 600.60 1011.38 601.54 1012.75 602.04 C1014.12 602.54 1014.62 602.70 1015.00 602.84" fill="none" stroke="#ff0688" stroke-width="4.9" stroke-linecap="butt" stroke-linejoin="round"/>
<linearGradient id="dg0" x1="0" y1="0" x2="0" y2="1"><stop offset="0" stop-color="#b2ab96"/><stop offset="1" stop-color="#a6a08a"/></linearGradient>
<rect x="881.5" y="17" width="124.5" height="126.5" rx="10" ry="10" fill="#a8aaac" filter="url(#brush)"/>
<ellipse cx="943.5" cy="82.8" rx="48.6" ry="50.2" fill="#6f7280" opacity="0.5"/>
<ellipse cx="944" cy="81.2" rx="48.7" ry="50.2" fill="url(#dg0)"/>
<linearGradient id="dg1" x1="0" y1="0" x2="0" y2="1"><stop offset="0" stop-color="#b1aa95"/><stop offset="1" stop-color="#a59f89"/></linearGradient>
<rect x="882.5" y="149" width="124.5" height="125.5" rx="10" ry="10" fill="#a6a8aa" filter="url(#brush)"/>
<ellipse cx="944.2" cy="214.1" rx="48.6" ry="50.2" fill="#6f7280" opacity="0.5"/>
<ellipse cx="944.7" cy="212.5" rx="48.7" ry="50.2" fill="url(#dg1)"/>
<linearGradient id="dg2" x1="0" y1="0" x2="0" y2="1"><stop offset="0" stop-color="#b0a994"/><stop offset="1" stop-color="#a49e88"/></linearGradient>
<rect x="884" y="281" width="124.5" height="126" rx="10" ry="10" fill="#a5a7a9" filter="url(#brush)"/>
<ellipse cx="946.1" cy="346.8" rx="48.6" ry="50.2" fill="#6f7280" opacity="0.5"/>
<ellipse cx="946.6" cy="345.2" rx="48.7" ry="50.2" fill="url(#dg2)"/>
<linearGradient id="dg3" x1="0" y1="0" x2="0" y2="1"><stop offset="0" stop-color="#ac6a4a"/><stop offset="1" stop-color="#985e40"/></linearGradient>
<rect x="882.5" y="413.3" width="123" height="126" rx="10" ry="10" fill="#a0a5a5" filter="url(#brush)"/>
<ellipse cx="944.2" cy="478.20000000000005" rx="48.6" ry="50.2" fill="#6f7280" opacity="0.5"/>
<ellipse cx="944.7" cy="476.6" rx="48.7" ry="50.2" fill="url(#dg3)"/>
<text x="48" y="135.5" textLength="62.2" lengthAdjust="spacingAndGlyphs" font-size="37.5" fill="#000" stroke="#000" stroke-width="1.2" stroke-linejoin="round" style="" >0.8</text>
<text x="48" y="269.5" textLength="62.2" lengthAdjust="spacingAndGlyphs" font-size="37.5" fill="#000" stroke="#000" stroke-width="1.2" stroke-linejoin="round" style="" >0.6</text>
<text x="48" y="404.0" textLength="62.2" lengthAdjust="spacingAndGlyphs" font-size="37.5" fill="#000" stroke="#000" stroke-width="1.2" stroke-linejoin="round" style="" >0.4</text>
<text x="48" y="538.5" textLength="62.2" lengthAdjust="spacingAndGlyphs" font-size="37.5" fill="#000" stroke="#000" stroke-width="1.2" stroke-linejoin="round" style="" >0.2</text>
<text x="48" y="673.5" textLength="62.2" lengthAdjust="spacingAndGlyphs" font-size="37.5" fill="#000" stroke="#000" stroke-width="1.2" stroke-linejoin="round" style="" >0.0</text>
<text x="217.5" y="706.3" textLength="75.0" lengthAdjust="spacingAndGlyphs" font-size="38" fill="#000" stroke="#000" stroke-width="1.25" stroke-linejoin="round" style="" >400</text>
<text x="481.70000000000005" y="706.3" textLength="75.0" lengthAdjust="spacingAndGlyphs" font-size="38" fill="#000" stroke="#000" stroke-width="1.25" stroke-linejoin="round" style="" >500</text>
<text x="743.5" y="706.3" textLength="75.0" lengthAdjust="spacingAndGlyphs" font-size="38" fill="#000" stroke="#000" stroke-width="1.25" stroke-linejoin="round" style="" >600</text>
<text transform="translate(301.5,764.5) skewX(-8)" x="0" y="0" textLength="449.5" lengthAdjust="spacingAndGlyphs" font-size="48" fill="#000" stroke="#000" stroke-width="1.7" stroke-linejoin="round" style="font-style:italic;" >Wavelength (nm.)</text>
<g transform="translate(37.8,464.6) rotate(-90)"><text x="0" y="0" textLength="296.0" lengthAdjust="spacingAndGlyphs" font-size="43.5" fill="#000" stroke="#000" stroke-width="1.5" stroke-linejoin="round" style="" >Reflectance</text></g>
<text transform="translate(375.9,240.4) skewX(-6)" x="0" y="0" textLength="207.2" lengthAdjust="spacingAndGlyphs" font-size="28" fill="#000000" stroke="#000000" stroke-width="1.3" stroke-linejoin="round" style="font-style:italic;" >(a)OSM Blank</text>
<text transform="translate(351.9,290.2) skewX(-6)" x="0" y="0" textLength="255.2" lengthAdjust="spacingAndGlyphs" font-size="28" fill="#ff0000" stroke="#ff0000" stroke-width="1.3" stroke-linejoin="round" style="font-style:italic;" >(b) Na, K, Mg, Ca</text>
<text transform="translate(352.9,343.5) skewX(-6)" x="0" y="0" textLength="254.2" lengthAdjust="spacingAndGlyphs" font-size="28" fill="#0000cc" stroke="#0000cc" stroke-width="1.3" stroke-linejoin="round" style="font-style:italic;" >(c) Co, Al, Mn, Ni</text>
<text transform="translate(357.9,394) skewX(-6)" x="0" y="0" textLength="245.2" lengthAdjust="spacingAndGlyphs" font-size="28" fill="#556b2f" stroke="#556b2f" stroke-width="1.3" stroke-linejoin="round" style="font-style:italic;" >(d) Cs, Cr, Bi, Fe</text>
<text transform="translate(348.9,446) skewX(-6)" x="0" y="0" textLength="264.2" lengthAdjust="spacingAndGlyphs" font-size="28" fill="#660066" stroke="#660066" stroke-width="1.3" stroke-linejoin="round" style="font-style:italic;" >(e) Sn, Cu, Zn, Pd</text>
<text transform="translate(438.9,495.6) skewX(-6)" x="0" y="0" textLength="83.2" lengthAdjust="spacingAndGlyphs" font-size="28" fill="#ff0066" stroke="#ff0066" stroke-width="1.3" stroke-linejoin="round" style="font-style:italic;" >(f) Hg</text>
<text x="577" y="79.3" textLength="28.5" lengthAdjust="spacingAndGlyphs" font-size="25.5" fill="#ff0688" stroke="#ff0688" stroke-width="0.5" stroke-linejoin="round" style="" >(f)</text>
<text x="254.5" y="522" textLength="39.5" lengthAdjust="spacingAndGlyphs" font-size="26" fill="#800080" stroke="#800080" stroke-width="0.4" stroke-linejoin="round" style="" >(e)</text>
<text x="285.5" y="570.7" textLength="37.0" lengthAdjust="spacingAndGlyphs" font-size="26" fill="#808000" stroke="#808000" stroke-width="0.4" stroke-linejoin="round" style="" >(d)</text>
<text x="332.5" y="577.3" textLength="38.5" lengthAdjust="spacingAndGlyphs" font-size="26" fill="#0000ff" stroke="#0000ff" stroke-width="0.4" stroke-linejoin="round" style="" >(c)</text>
<text x="371" y="578" textLength="38.0" lengthAdjust="spacingAndGlyphs" font-size="26" fill="#ff0000" stroke="#ff0000" stroke-width="0.4" stroke-linejoin="round" style="" >(b)</text>
<text x="413.5" y="581" textLength="38.0" lengthAdjust="spacingAndGlyphs" font-size="26" fill="#000000" stroke="#000000" stroke-width="0.4" stroke-linejoin="round" style="" >(a)</text>
<text transform="translate(817,100) skewX(-6)" x="0" y="0" textLength="49.0" lengthAdjust="spacingAndGlyphs" font-size="34" stroke-width="1.0" stroke-linejoin="round" style="font-style:italic"><tspan fill="#000000" stroke="#000000">(a)</tspan></text>
<text transform="translate(714,227) skewX(-6)" x="0" y="0" textLength="154.5" lengthAdjust="spacingAndGlyphs" font-size="34" stroke-width="1.0" stroke-linejoin="round" style="font-style:italic"><tspan fill="#ff0000" stroke="#ff0000">(b)</tspan><tspan fill="#000000" stroke="#000000"> &amp; </tspan><tspan fill="#000099" stroke="#000099">(c)</tspan></text>
<text transform="translate(719,369) skewX(-6)" x="0" y="0" textLength="155.0" lengthAdjust="spacingAndGlyphs" font-size="34" stroke-width="1.0" stroke-linejoin="round" style="font-style:italic"><tspan fill="#669900" stroke="#669900">(d)</tspan><tspan fill="#000000" stroke="#000000"> &amp; </tspan><tspan fill="#660066" stroke="#660066">(e)</tspan></text>
<text transform="translate(825,482) skewX(-6)" x="0" y="0" textLength="37.5" lengthAdjust="spacingAndGlyphs" font-size="34" stroke-width="1.0" stroke-linejoin="round" style="font-style:italic"><tspan fill="#ff00ff" stroke="#ff00ff">(f)</tspan></text>
</g></svg></body></html>
